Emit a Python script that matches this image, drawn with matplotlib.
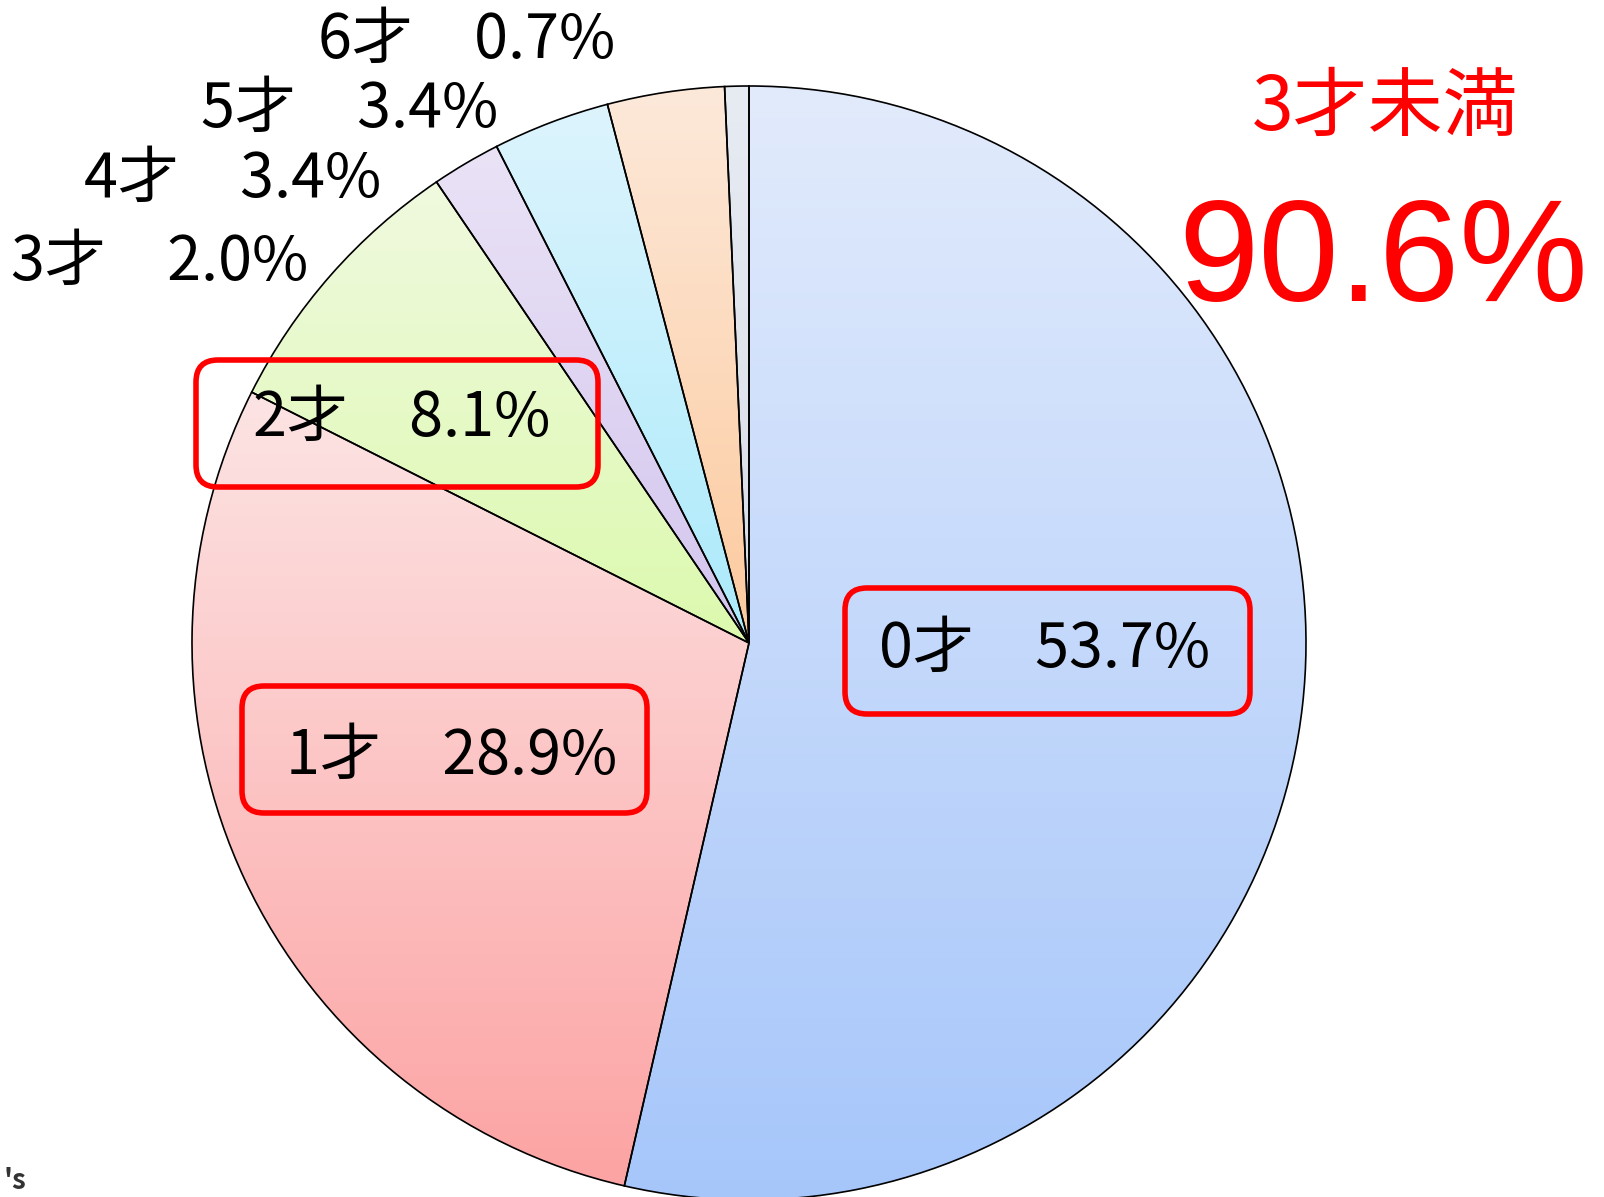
import numpy as np
import matplotlib
matplotlib.use("Agg")
import matplotlib.pyplot as plt
from matplotlib.patches import FancyBboxPatch
from matplotlib.colors import to_rgb

plt.rcParams['font.family'] = ['Noto Sans CJK JP', 'DejaVu Sans']

# ---- data ----
categories = ["0才", "1才", "2才", "3才", "4才", "5才", "6才"]
values = [53.7, 28.9, 8.1, 2.0, 3.4, 3.4, 0.7]
top_colors = ["#E2EBFC", "#FDE4E4", "#F0FADF", "#EAE3F6", "#DDF4FD", "#FDE9DA", "#E7EBF2"]
bottom_colors = ["#A6C6FA", "#FCA3A3", "#DCF9AE", "#D3C5EE", "#ABEAFB", "#FCCA9E", "#D7DDE8"]
summary_label = "3才未満"
summary_value = "90.6%"

W, H = 1604, 1197
fig = plt.figure(figsize=(W / 100, H / 100), dpi=100)
ax = fig.add_axes([0, 0, 1, 1])
ax.set_xlim(0, W)
ax.set_ylim(0, H)
ax.set_aspect('equal')
ax.axis('off')

cx, cy, R = 749, H - 643, 557

wedges, _ = ax.pie(values, startangle=90, counterclock=False, center=(cx, cy),
                   radius=R, frame=True,
                   wedgeprops=dict(facecolor='none', edgecolor='black', linewidth=1.2, zorder=3))

for w, c0, c1 in zip(wedges, top_colors, bottom_colors):
    ext = w.get_path().get_extents()
    x0, y0, x1, y1 = ext.x0, ext.y0, ext.x1, ext.y1
    t = np.linspace(0, 1, 256)[:, None]
    a, b = np.array(to_rgb(c0)), np.array(to_rgb(c1))
    grad = (1 - t) * a + t * b  # row 0 = top
    img = np.repeat(grad[:, None, :], 2, axis=1)
    im = ax.imshow(img, extent=(x0, x1, y0, y1), origin='upper', aspect='auto', zorder=2,
                   interpolation='bilinear')
    im.set_clip_path(w)

ax.set_xlim(0, W)
ax.set_ylim(0, H)
ax.axis('off')

def px(x, y):
    return x, H - y

FS = 44
# outside labels (small slices)
out_pos = {3: (160, 263), 4: (233, 180), 5: (350, 110), 6: (467, 41)}
for i, (x, y) in out_pos.items():
    ax.text(*px(x, y), f"{categories[i]}\u3000{values[i]:.1f}%", fontsize=FS,
            ha='center', va='center', color='black', zorder=5)

# boxed labels
box_info = {0: ((1045, 650), (845, 588, 1250, 714)),
            1: ((452, 757), (242, 686, 647, 813)),
            2: ((402, 419), (196, 360, 598, 487))}
for i, ((x, y), (bx0, by0, bx1, by1)) in box_info.items():
    ax.text(*px(x, y), f"{categories[i]}\u3000{values[i]:.1f}%", fontsize=FS,
            ha='center', va='center', color='black', zorder=5)
    box = FancyBboxPatch((bx0, H - by1), bx1 - bx0, by1 - by0,
                         boxstyle="round,pad=0,rounding_size=22",
                         facecolor='none', edgecolor='#FF0000', linewidth=4, zorder=6)
    ax.add_patch(box)

ax.text(*px(1385, 108), summary_label, fontsize=54, color='#FF0000',
        ha='center', va='center', zorder=5)
ax.text(*px(1383, 264), summary_value, fontsize=104, color='#FF0000',
        ha='center', va='center', zorder=5, family=['Liberation Sans', 'DejaVu Sans'])

fig.text(0.002, 0.002, "'s", fontsize=20, fontweight='bold', style='italic', color='#333333',
         ha='left', va='bottom')

fig.savefig("out.png", dpi=100)
